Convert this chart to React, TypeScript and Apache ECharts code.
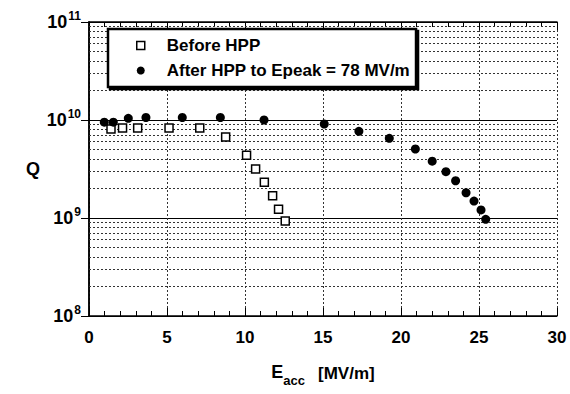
import React, { useEffect, useRef } from "react";
import * as echarts from "echarts";

const beforeE = [1.41, 2.15, 3.12, 5.13, 7.1, 8.76, 10.1, 10.68, 11.24, 11.77, 12.15, 12.58];
const beforeQ = [8.1e9, 8.3e9, 8.3e9, 8.3e9, 8.3e9, 6.7e9, 4.36e9, 3.16e9, 2.31e9, 1.69e9, 1.23e9, 9.3e8];
const afterE = [0.98, 1.56, 2.52, 3.65, 5.98, 8.42, 11.22, 15.08, 17.3, 19.25, 20.92, 22.0, 22.88, 23.5, 24.17, 24.68, 25.13, 25.43];
const afterQ = [9.5e9, 9.5e9, 1.04e10, 1.06e10, 1.06e10, 1.06e10, 1.0e10, 9.1e9, 7.66e9, 6.5e9, 5.06e9, 3.8e9, 2.97e9, 2.4e9, 1.81e9, 1.49e9, 1.21e9, 9.7e8];

const seriesNames = ["Before HPP", "After HPP to Epeak = 78 MV/m"];
const decades = [1e8, 1e9, 1e10];
const minorMultipliers = [2, 3, 4, 5, 6, 7, 8, 9];
const minorGrid = decades.flatMap((d) => minorMultipliers.map((m) => m * d));

const FONT = "Liberation Sans";

export default function App() {
  const ref = useRef<HTMLDivElement>(null);
  useEffect(() => {
    if (!ref.current) return;
    const chart = echarts.init(ref.current, undefined, { renderer: "svg" });
    const axisLine = { show: true, lineStyle: { color: "#000", width: 1.5 } };
    chart.setOption({
      animation: false,
      backgroundColor: "#fff",
      textStyle: { fontFamily: FONT },
      grid: { left: 89, right: 13, top: 22, bottom: 78 },
      legend: {
        left: 108,
        top: 29,
        orient: "vertical",
        itemWidth: 8,
        itemHeight: 8,
        itemGap: 8,
        padding: [8, 6, 8, 28],
        backgroundColor: "#fff",
        borderColor: "#000",
        borderWidth: 2.5,
        shadowColor: "#000",
        shadowOffsetX: 2,
        shadowOffsetY: 2,
        shadowBlur: 0,
        textStyle: { fontFamily: FONT, fontWeight: "bold", fontSize: 17, color: "#000", padding: [0, 0, 0, 17] },
        data: [
          { name: seriesNames[0], icon: "rect", itemStyle: { color: "#fff", borderColor: "#000", borderWidth: 1.5 } },
          { name: seriesNames[1], icon: "circle" },
        ],
      },
      xAxis: [
        {
          type: "value",
          min: 0,
          max: 30,
          interval: 5,
          position: "bottom",
          axisLine,
          axisTick: { show: true, inside: true, length: 8, lineStyle: { color: "#000" } },
          minorTick: { show: true, splitNumber: 5, length: 5, lineStyle: { color: "#000" } },
          axisLabel: {
            fontFamily: FONT,
            fontWeight: "bold",
            fontSize: 17,
            color: "#000",
            margin: 13,
          },
          splitLine: { show: true, lineStyle: { type: [2, 2], color: "#333", width: 1 } },
          name: "{e|E}{sub|acc}{u|[MV/m]}",
          nameLocation: "middle",
          nameGap: 47,
          nameTextStyle: {
            rich: {
              e: { fontFamily: FONT, fontWeight: "bold", fontSize: 18, color: "#000", verticalAlign: "top", lineHeight: 20 },
              sub: { fontFamily: FONT, fontWeight: "bold", fontSize: 13, color: "#000", padding: [14, 0, 0, 0], lineHeight: 20 },
              u: { fontFamily: FONT, fontWeight: "bold", fontSize: 17, color: "#000", padding: [0, 0, 0, 13], lineHeight: 20 },
            },
          },
        },
        {
          type: "value",
          min: 0,
          max: 30,
          interval: 5,
          position: "top",
          axisLine,
          axisTick: { show: true, inside: true, length: 8, lineStyle: { color: "#000" } },
          minorTick: { show: true, splitNumber: 5, length: 5, lineStyle: { color: "#000" } },
          axisLabel: { show: false },
          splitLine: { show: false },
        },
      ],
      yAxis: [
        {
          type: "log",
          logBase: 10,
          min: 1e8,
          max: 1e11,
          position: "left",
          axisLine,
          axisTick: { show: true, inside: true, length: 8, lineStyle: { color: "#000" } },
          axisLabel: {
            margin: 8,
            formatter: (v: number) => `{b|10}{s|${Math.round(Math.log10(v))}}`,
            rich: {
              b: { fontFamily: FONT, fontWeight: "bold", fontSize: 18, color: "#000", lineHeight: 22 },
              s: { fontFamily: FONT, fontWeight: "bold", fontSize: 12, color: "#000", padding: [0, 0, 12, 1], lineHeight: 22 },
            },
          },
          splitLine: { show: true, lineStyle: { color: "#000", width: 1.2 } },
          name: "Q",
          nameLocation: "middle",
          nameRotate: 0,
          nameGap: 49,
          nameTextStyle: { fontFamily: FONT, fontWeight: "bold", fontSize: 18, color: "#000" },
        },
        {
          type: "log",
          logBase: 10,
          min: 1e8,
          max: 1e11,
          position: "right",
          axisLine,
          axisTick: { show: true, inside: true, length: 8, lineStyle: { color: "#000" } },
          axisLabel: { show: false },
          splitLine: { show: false },
        },
      ],
      series: [
        {
          name: seriesNames[0],
          type: "scatter",
          symbol: "rect",
          symbolSize: 8,
          itemStyle: { color: "#fff", borderColor: "#000", borderWidth: 1.5, opacity: 1 },
          data: beforeE.map((e, i) => [e, beforeQ[i]]),
          z: 5,
          markLine: {
            silent: true,
            symbol: ["none", "none"],
            label: { show: false },
            lineStyle: { type: [2, 2], color: "#333", width: 1 },
            data: minorGrid.map((v) => ({ yAxis: v })),
            z: 1,
          },
        },
        {
          name: seriesNames[1],
          type: "scatter",
          symbol: "circle",
          symbolSize: 9,
          itemStyle: { color: "#000", opacity: 1 },
          data: afterE.map((e, i) => [e, afterQ[i]]),
          z: 6,
        },
      ],
    });
    return () => chart.dispose();
  }, []);
  return <div ref={ref} style={{ position: "fixed", left: 0, top: 0, width: 570, height: 394 }} />;
}
